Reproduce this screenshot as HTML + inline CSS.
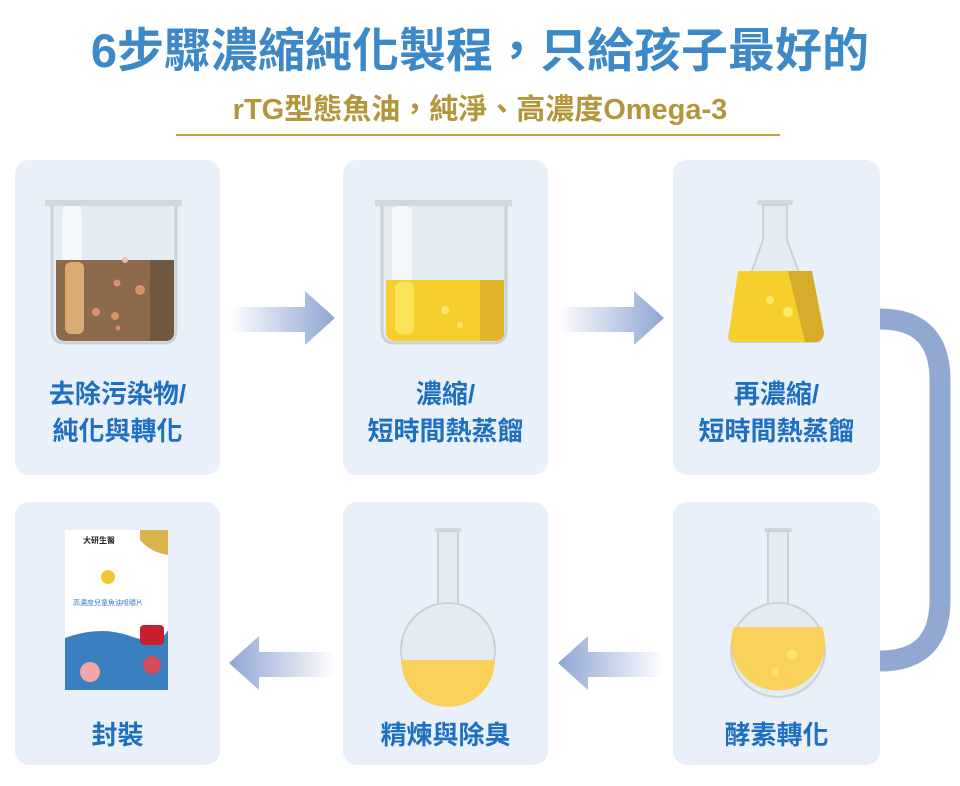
<!DOCTYPE html>
<html><head><meta charset="utf-8"><style>
body{margin:0;width:960px;height:786px;background:#fff;position:relative;overflow:hidden;font-family:"Liberation Sans","Noto Sans CJK TC",sans-serif}
.t{position:absolute;left:0;width:960px;text-align:center;white-space:nowrap}
.card{position:absolute;background:#e9f0f9;border-radius:14px}
.lbl{position:absolute;left:0;right:0;text-align:center;color:#1f6fc0;font-size:26px;line-height:37px;font-weight:bold}
svg{position:absolute;left:0;top:0}
</style></head><body>
<div class="t" style="top:12px;font-size:47px;font-weight:bold;color:#3d88c6">6步驟濃縮純化製程，只給孩子最好的</div>
<div class="t" style="top:86px;font-size:29px;font-weight:bold;color:#b3963a">rTG型態魚油，純淨、高濃度Omega-3</div>
<div style="position:absolute;left:176px;top:134px;width:604px;height:2px;background:#c2a24a"></div>

<div class="card" style="left:15px;top:160px;width:205px;height:315px"><div class="lbl" style="top:216px">去除污染物/<br>純化與轉化</div></div>
<div class="card" style="left:343px;top:160px;width:205px;height:315px"><div class="lbl" style="top:216px">濃縮/<br>短時間熱蒸餾</div></div>
<div class="card" style="left:673px;top:160px;width:207px;height:315px"><div class="lbl" style="top:216px">再濃縮/<br>短時間熱蒸餾</div></div>
<div class="card" style="left:15px;top:502px;width:205px;height:263px"><div class="lbl" style="top:215px">封裝</div></div>
<div class="card" style="left:343px;top:502px;width:205px;height:263px"><div class="lbl" style="top:215px">精煉與除臭</div></div>
<div class="card" style="left:673px;top:502px;width:207px;height:263px"><div class="lbl" style="top:215px">酵素轉化</div></div>

<svg width="960" height="786">
<defs>
<linearGradient id="ar" x1="0" x2="1"><stop offset="0" stop-color="#8fa5d4" stop-opacity="0"/><stop offset="1" stop-color="#8fa5d4"/></linearGradient>
<linearGradient id="al" x1="1" x2="0"><stop offset="0" stop-color="#8fa5d4" stop-opacity="0"/><stop offset="1" stop-color="#8fa5d4"/></linearGradient>
</defs>
<path d="M229 307H305V291L335 318L305 345V332H229Z" fill="url(#ar)"/>
<path d="M558 307H634V291L664 318L634 345V332H558Z" fill="url(#ar)"/>
<path d="M335 652H259V636L229 663L259 690V677H335Z" fill="url(#al)"/>
<path d="M664 652H588V636L558 663L588 690V677H664Z" fill="url(#al)"/>
<path d="M880 319Q940 319 940 380V600Q940 661 880 661" fill="none" stroke="#91a8d3" stroke-width="21"/>

<g>
<path d="M52 204H176V330Q176 343 163 343H65Q52 343 52 330Z" fill="#e4ecf2" stroke="#c9d2d9" stroke-width="3"/>
<rect x="62" y="206" width="20" height="130" rx="6" fill="#f4f8fb"/>
<path d="M45 200H182V206H45Z" fill="#d0d9df"/>
<path d="M56 260H174V332Q174 341 164 341H66Q56 341 56 332Z" fill="#8d6a4c"/>
<path d="M150 260H174V332Q174 341 164 341H150Z" fill="#6f5740"/>
<rect x="65" y="262" width="19" height="72" rx="6" fill="#dcab74"/>
<circle cx="140" cy="290" r="5" fill="#d9906c"/><circle cx="117" cy="283" r="3.5" fill="#d9906c"/>
<circle cx="96" cy="312" r="4" fill="#d9906c"/><circle cx="115" cy="316" r="4" fill="#d9906c"/>
<circle cx="118" cy="328" r="2.5" fill="#d9906c"/><circle cx="125" cy="260" r="3" fill="#eec0ac"/>
</g>
<g>
<path d="M382 204H506V330Q506 343 493 343H395Q382 343 382 330Z" fill="#e4ecf2" stroke="#c9d2d9" stroke-width="3"/>
<rect x="392" y="206" width="20" height="130" rx="6" fill="#f4f8fb"/>
<path d="M375 200H512V206H375Z" fill="#d0d9df"/>
<path d="M386 280H504V332Q504 341 494 341H396Q386 341 386 332Z" fill="#f6cf2c"/>
<path d="M480 280H504V332Q504 341 494 341H480Z" fill="#e0b52a"/>
<rect x="395" y="282" width="19" height="52" rx="6" fill="#fbe45a"/>
<circle cx="445" cy="310" r="4" fill="#fce76a"/><circle cx="460" cy="325" r="3" fill="#fce76a"/>
</g>
<g>
<rect x="757" y="200" width="36" height="5" rx="2" fill="#d0d9df"/>
<path d="M763 205H787V240L822 335Q822 342 815 342H735Q728 342 729 335L763 240Z" fill="#e4ecf2" stroke="#c9d2d9" stroke-width="2"/>
<path d="M738 271H812L824 333Q823 342 815 342H735Q727 342 729 333Z" fill="#f6cf2c"/>
<path d="M788 271H812L824 333Q823 342 815 342H805Z" fill="#d6ad2a"/>
<circle cx="770" cy="300" r="4" fill="#fce76a"/><circle cx="788" cy="312" r="5" fill="#fce76a"/>
</g>
<g>
<rect x="764" y="528" width="28" height="4" rx="2" fill="#d0d9df"/>
<rect x="768" y="531" width="20" height="75" fill="#e4ecf2" stroke="#c9d2d9" stroke-width="2"/>
<circle cx="778" cy="650" r="47" fill="#e4ecf2" stroke="#c9d2d9" stroke-width="2"/>
<path d="M734 627A47 47 0 1 0 822 627Z" fill="#f8d25a"/>
<circle cx="792" cy="655" r="5" fill="#fce76a"/><circle cx="775" cy="672" r="4" fill="#fce76a"/>
</g>
<g>
<rect x="434" y="528" width="28" height="4" rx="2" fill="#d0d9df"/>
<rect x="438" y="531" width="20" height="75" fill="#e4ecf2" stroke="#c9d2d9" stroke-width="2"/>
<circle cx="448" cy="650" r="47" fill="#e4ecf2" stroke="#c9d2d9" stroke-width="2"/>
<path d="M401 660A47 47 0 0 0 495 660Z" fill="#f8d25a"/>
</g>
<g>
<rect x="65" y="530" width="103" height="160" fill="#ffffff"/>
<path d="M65 638Q100 625 130 636T168 630V690H65Z" fill="#3a7fbf"/>
<path d="M140 530H168V555Q150 552 140 540Z" fill="#d8b54c"/>
<text x="83" y="543" font-size="8" font-weight="bold" fill="#222">大研生醫</text>
<text x="73" y="605" font-size="7" fill="#3a7fbf">高濃度兒童魚油咀嚼片</text>
<rect x="140" y="625" width="24" height="20" rx="4" fill="#c8202f"/>
<circle cx="90" cy="672" r="10" fill="#f2a7a6"/>
<circle cx="108" cy="577" r="7" fill="#f3c436"/>
<circle cx="152" cy="665" r="9" fill="#d84b5d"/>
</g>
</svg>
</body></html>
